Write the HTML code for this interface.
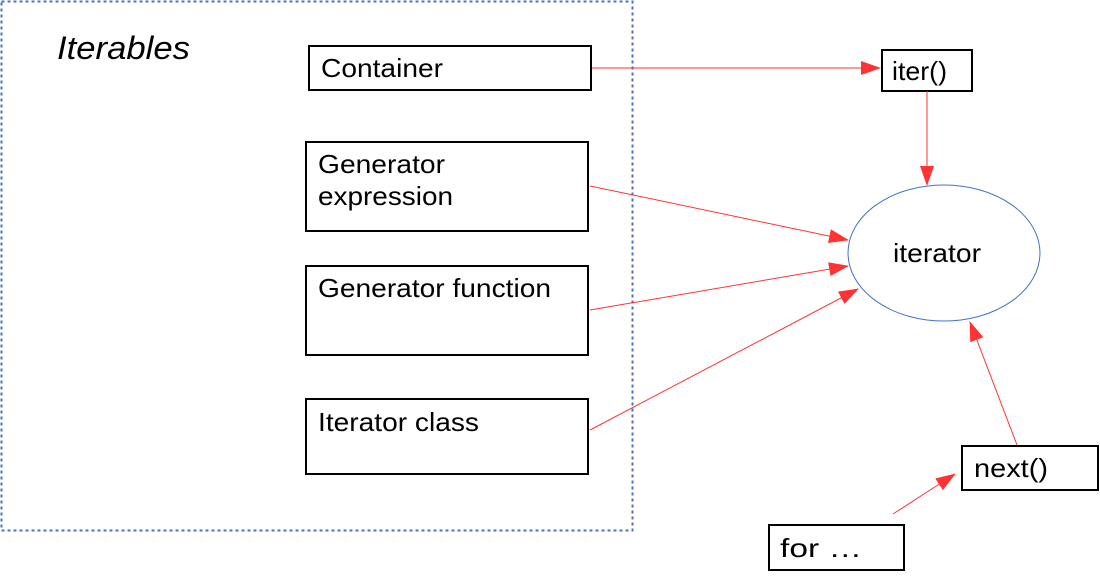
<!DOCTYPE html>
<html><head><style>
body{margin:0;background:#fff;}
svg text{font-family:"Liberation Sans",sans-serif;font-size:26px;fill:#000;}
</style></head><body>
<svg width="1100" height="572" xmlns="http://www.w3.org/2000/svg">
<defs>
<marker id="b" markerWidth="20" markerHeight="14" refX="19" refY="7" orient="auto" markerUnits="userSpaceOnUse"><path d="M0,0L20,7L0,14z" fill="#f33"/></marker></defs>
<rect x="1.5" y="1.5" width="631" height="529" fill="none" stroke="#4472c4" stroke-width="2" stroke-dasharray="3,3"/>
<text x="57" y="59" textLength="133" lengthAdjust="spacingAndGlyphs" style="font-size:32px;font-style:italic">Iterables</text>
<g fill="none" stroke="#000" stroke-width="2">
<rect x="309" y="46" width="282" height="44"/>
<rect x="306" y="142" width="282" height="89"/>
<rect x="306" y="266" width="282" height="89"/>
<rect x="306" y="399" width="282" height="75"/>
<rect x="882" y="50" width="90" height="41"/>
<rect x="962" y="446" width="136" height="44"/>
<rect x="769" y="525" width="135" height="45"/>
</g>
<ellipse cx="944" cy="253" rx="96" ry="68" fill="none" stroke="#4472c4" stroke-width="1"/>
<text x="321" y="77" textLength="122" lengthAdjust="spacingAndGlyphs">Container</text>
<text x="318" y="173" textLength="127" lengthAdjust="spacingAndGlyphs">Generator</text>
<text x="318" y="205" textLength="135" lengthAdjust="spacingAndGlyphs">expression</text>
<text x="318" y="297" textLength="233" lengthAdjust="spacingAndGlyphs">Generator function</text>
<text x="318" y="431" textLength="161" lengthAdjust="spacingAndGlyphs">Iterator class</text>
<text x="892" y="80" textLength="55" lengthAdjust="spacingAndGlyphs">iter()</text>
<text x="893" y="262" textLength="88" lengthAdjust="spacingAndGlyphs">iterator</text>
<text x="974" y="477" textLength="74" lengthAdjust="spacingAndGlyphs">next()</text>
<text x="780" y="557" textLength="82" lengthAdjust="spacingAndGlyphs">for …</text>
<g stroke="#f33" stroke-width="1" fill="none">
<line x1="592" y1="68" x2="880" y2="68" marker-end="url(#b)"/>
<line x1="927" y1="91" x2="927" y2="185" marker-end="url(#b)"/>
<line x1="590" y1="186" x2="848" y2="240" marker-end="url(#b)"/>
<line x1="590" y1="310" x2="848" y2="266" marker-end="url(#b)"/>
<line x1="590" y1="430" x2="858" y2="289" marker-end="url(#b)"/>
<line x1="1017" y1="445" x2="970" y2="322" marker-end="url(#b)"/>
<line x1="893" y1="514" x2="955" y2="474" marker-end="url(#b)"/>
</g>
</svg>
</body></html>
